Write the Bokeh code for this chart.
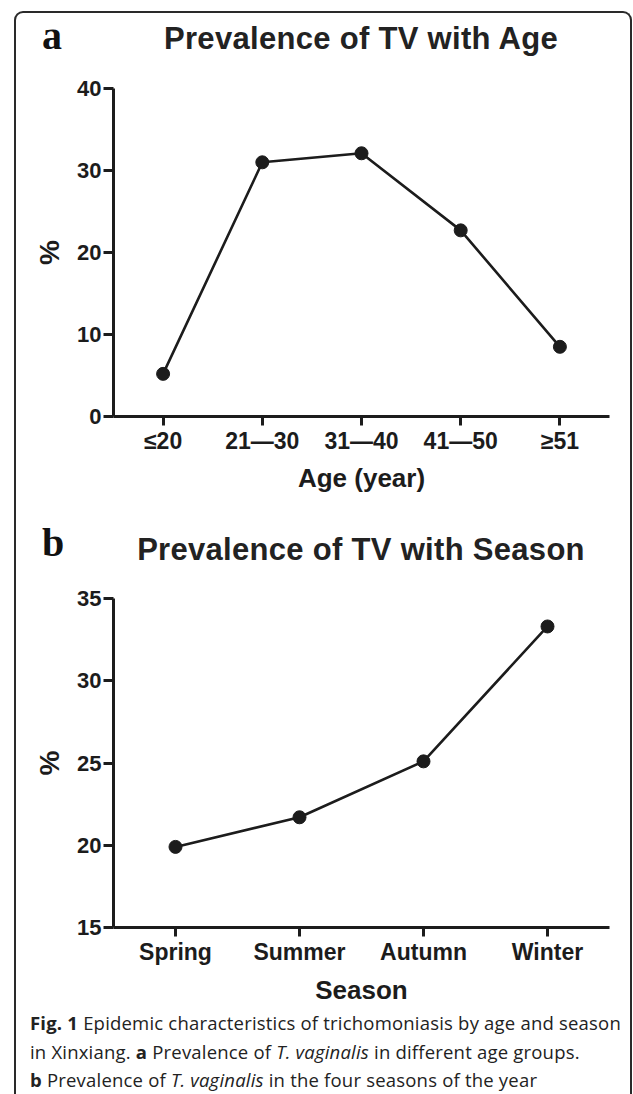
from bokeh.plotting import figure
from bokeh.layouts import column
from bokeh.models import FactorRange, Range1d, FixedTicker, Div
from bokeh.embed import file_html
from bokeh.resources import INLINE

# ---- data ----
age_groups = ["≤20", "21—30", "31—40", "41—50", "≥51"]
age_prevalence = [5.2, 31.0, 32.1, 22.7, 8.5]
age_yticks = [0, 10, 20, 30, 40]

seasons = ["Spring", "Summer", "Autumn", "Winter"]
season_prevalence = [19.9, 21.7, 25.1, 33.3]
season_yticks = [15, 20, 25, 30, 35]

INK = "#1c1c1c"
SANS = "Liberation Sans"
W = 614


def make_panel(cats, vals, yticks, xlabel, height, top, bottom, xlab_standoff):
    p = figure(x_range=FactorRange(*cats, range_padding=0),
               y_range=Range1d(yticks[0], yticks[-1]),
               width=W, height=height, output_backend="svg",
               toolbar_location=None,
               min_border_left=97, min_border_right=21,
               min_border_top=top, min_border_bottom=bottom)
    p.outline_line_color = None
    p.grid.visible = False
    p.background_fill_color = "white"
    p.border_fill_color = "white"

    ya = p.yaxis[0]
    ya.ticker = FixedTicker(ticks=yticks, minor_ticks=[])
    ya.axis_line_width = 3
    ya.axis_line_color = INK
    ya.major_tick_line_width = 3
    ya.major_tick_line_color = INK
    ya.major_tick_out = 10
    ya.major_tick_in = 0
    ya.minor_tick_line_color = None
    ya.major_label_text_font = SANS
    ya.major_label_text_font_size = "22px"
    ya.major_label_text_font_style = "bold"
    ya.major_label_text_color = INK
    ya.major_label_standoff = 2
    ya.axis_label = "%"
    ya.axis_label_text_font = SANS
    ya.axis_label_text_font_size = "28px"
    ya.axis_label_text_font_style = "bold"
    ya.axis_label_text_color = INK
    ya.axis_label_standoff = 9

    xa = p.xaxis[0]
    xa.axis_line_width = 3
    xa.axis_line_color = INK
    xa.major_tick_line_width = 3
    xa.major_tick_line_color = INK
    xa.major_tick_out = 9
    xa.major_tick_in = 0
    xa.minor_tick_line_color = None
    xa.major_label_text_font = SANS
    xa.major_label_text_font_size = "23px"
    xa.major_label_text_font_style = "bold"
    xa.major_label_text_color = INK
    xa.major_label_standoff = 2
    xa.axis_label = xlabel
    xa.axis_label_text_font = SANS
    xa.axis_label_text_font_size = "26px"
    xa.axis_label_text_font_style = "bold"
    xa.axis_label_text_color = INK
    xa.axis_label_standoff = xlab_standoff

    p.line(x=cats, y=vals, line_width=2.6, line_color=INK)
    p.scatter(x=cats, y=vals, size=13, fill_color=INK, line_color=INK)
    return p


def header(letter, title, height, letter_top, title_top):
    html = (
        f'<div style="position:relative;width:{W}px;height:{height}px;">'
        f'<span style="position:absolute;left:26px;top:{letter_top}px;'
        f'font-family:\'Liberation Serif\';font-size:40px;font-weight:bold;'
        f'line-height:40px;color:#111111;">{letter}</span>'
        f'<span style="position:absolute;left:97px;width:496px;top:{title_top}px;'
        f'text-align:center;white-space:nowrap;font-family:\'Liberation Sans\';'
        f'font-size:31px;font-weight:bold;letter-spacing:0.3px;line-height:31px;'
        f'color:#222222;">{title}</span>'
        f'</div>'
    )
    return Div(text=html, width=W, height=height, margin=0)


head_a = header("a", "Prevalence of TV with Age", 60, 3, 10)
pa = make_panel(age_groups, age_prevalence, age_yticks, "Age (year)",
                height=437, top=15, bottom=94, xlab_standoff=6)
head_b = header("b", "Prevalence of TV with Season", 75, 13, 24)
pb = make_panel(seasons, season_prevalence, season_yticks, "Season",
                height=424, top=13, bottom=82, xlab_standoff=7)

caption_html = (
    '<div style="white-space:nowrap;font-family:\'Open Sans\';font-size:18.5px;'
    'letter-spacing:0.2px;line-height:28.5px;color:#222222;">'
    '<b>Fig. 1</b> Epidemic characteristics of trichomoniasis by age and season<br>'
    'in Xinxiang. <b>a</b> Prevalence of <i>T. vaginalis</i> in different age groups.<br>'
    '<b>b</b> Prevalence of <i>T. vaginalis</i> in the four seasons of the year'
    '</div>'
)
cap = Div(text=caption_html, width=600, height=85, margin=(0, 0, 0, 14))

layout = column(head_a, pa, head_b, pb, cap, spacing=0, margin=(11, 0, 0, 14),
                styles={"border": "2px solid #2a2a2a", "border-bottom": "none",
                        "border-radius": "9px 9px 0 0"})

open("out.html", "w").write(file_html(layout, INLINE))
